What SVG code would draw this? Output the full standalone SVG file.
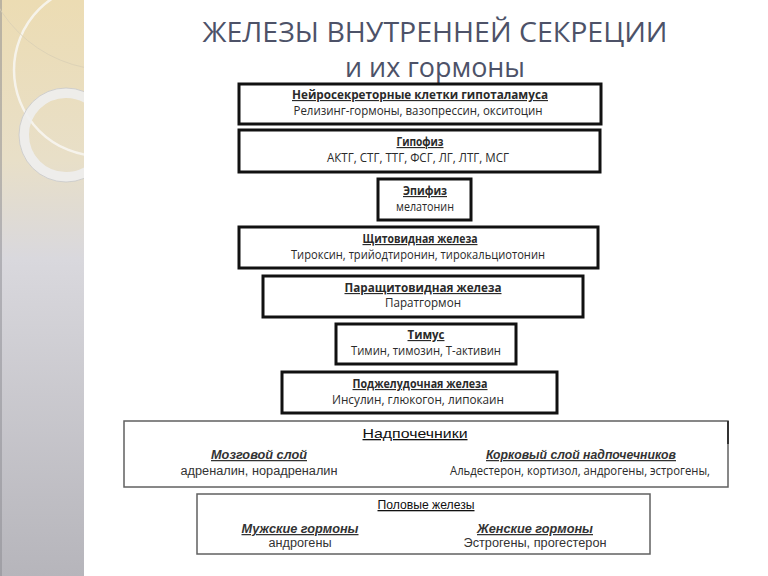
<svg xmlns="http://www.w3.org/2000/svg" width="768" height="576" viewBox="0 0 768 576">
  <defs>
    <linearGradient id="side" x1="0" y1="0" x2="0" y2="1">
      <stop offset="0" stop-color="#ecdcb3"/>
      <stop offset="0.28" stop-color="#e8dfc8"/>
      <stop offset="0.45" stop-color="#d9d8dd"/>
      <stop offset="1" stop-color="#b6b5bb"/>
    </linearGradient>
    <clipPath id="sideClip"><rect x="0" y="0" width="84" height="576"/></clipPath>
  </defs>
  <style>
    .box { fill: #ffffff; stroke: #111111; stroke-width: 3; }
    .gbox { fill: #ffffff; stroke: #606060; stroke-width: 1.5; }
    .h { font-family: "Open Sans", "Noto Sans", sans-serif; font-size: 11.5px; font-weight: 700; fill: #2a2a2a; text-anchor: middle; text-decoration: underline; }
    .t { font-family: "Open Sans", "Noto Sans", sans-serif; font-size: 12.5px; fill: #2a2a2a; text-anchor: middle; }
    .a { font-family: "Liberation Sans", Arial, sans-serif; font-size: 12.5px; fill: #333333; text-anchor: middle; }
    .ah { font-family: "Liberation Sans", Arial, sans-serif; font-size: 13px; fill: #111111; text-anchor: middle; text-decoration: underline; }
    .bi { font-family: "Liberation Sans", Arial, sans-serif; font-size: 12.5px; font-weight: 700; font-style: italic; fill: #333333; text-anchor: middle; text-decoration: underline; }
    .title { font-family: "Open Sans", "Noto Sans", sans-serif; font-size: 27px; font-weight: 400; fill: #4d5268; text-anchor: middle; }
  </style>

  <rect x="0" y="0" width="768" height="576" fill="#ffffff"/>

  <g id="sidebar">
    <rect x="0" y="0" width="84" height="576" fill="url(#side)"/>
    <rect x="0" y="0" width="2" height="576" fill="#8a8990" opacity="0.5"/>
    <g clip-path="url(#sideClip)" fill="none">
      <circle cx="100" cy="70" r="86" stroke="#f7f5f0" stroke-width="2.5" opacity="0.9"/>
      <circle cx="110" cy="-60" r="130" stroke="#d9cfb5" stroke-width="1" opacity="0.8"/>
      <circle cx="66" cy="135" r="42" stroke="#eeeeee" stroke-width="10" opacity="0.9"/>
      <circle cx="66" cy="135" r="47" stroke="#c8c8c8" stroke-width="0.8"/>
    </g>
  </g>

  <g id="title">
    <text class="title" x="435" y="42" textLength="465" lengthAdjust="spacingAndGlyphs">ЖЕЛЕЗЫ ВНУТРЕННЕЙ СЕКРЕЦИИ</text>
    <text class="title" x="435" y="77" textLength="180" lengthAdjust="spacingAndGlyphs">и их гормоны</text>
  </g>

  <g id="hypothalamus">
    <rect class="box" x="239" y="84" width="362" height="40"/>
    <text class="h" x="420" y="99" textLength="256" lengthAdjust="spacingAndGlyphs">Нейросекреторные клетки  гипоталамуса</text>
    <text class="t" x="418" y="115" textLength="249" lengthAdjust="spacingAndGlyphs">Релизинг-гормоны, вазопрессин, окситоцин</text>
  </g>

  <g id="pituitary">
    <rect class="box" x="239" y="130" width="361" height="42"/>
    <text class="h" x="420" y="146" textLength="47" lengthAdjust="spacingAndGlyphs">Гипофиз</text>
    <text class="t" x="418" y="162" font-size="14" textLength="182" lengthAdjust="spacingAndGlyphs">АКТГ, СТГ, ТТГ, ФСГ, ЛГ, ЛТГ, МСГ</text>
  </g>

  <g id="pineal">
    <rect class="box" x="378" y="179" width="93" height="41"/>
    <text class="h" x="425" y="195" textLength="44" lengthAdjust="spacingAndGlyphs">Эпифиз</text>
    <text class="t" x="425" y="211" textLength="58" lengthAdjust="spacingAndGlyphs">мелатонин</text>
  </g>

  <g id="thyroid">
    <rect class="box" x="239" y="227" width="359" height="41"/>
    <text class="h" x="420" y="243" textLength="115" lengthAdjust="spacingAndGlyphs">Щитовидная железа</text>
    <text class="t" x="418" y="259" font-size="13.5" textLength="254" lengthAdjust="spacingAndGlyphs">Тироксин, трийодтиронин, тирокальциотонин</text>
  </g>

  <g id="parathyroid">
    <rect class="box" x="263" y="276" width="320" height="41"/>
    <text class="h" x="423" y="292" textLength="157" lengthAdjust="spacingAndGlyphs">Паращитовидная железа</text>
    <text class="t" x="423" y="307" textLength="76" lengthAdjust="spacingAndGlyphs">Паратгормон</text>
  </g>

  <g id="thymus">
    <rect class="box" x="336" y="324" width="180" height="40"/>
    <text class="h" x="426" y="339" textLength="37" lengthAdjust="spacingAndGlyphs">Тимус</text>
    <text class="t" x="426" y="355" textLength="150" lengthAdjust="spacingAndGlyphs">Тимин, тимозин, Т-активин</text>
  </g>

  <g id="pancreas">
    <rect class="box" x="282" y="372" width="275" height="41"/>
    <text class="h" x="420" y="388" textLength="135" lengthAdjust="spacingAndGlyphs">Поджелудочная железа</text>
    <text class="t" x="418" y="404" textLength="172" lengthAdjust="spacingAndGlyphs">Инсулин, глюкогон, липокаин</text>
  </g>

  <g id="adrenal">
    <rect class="gbox" x="124" y="421" width="604" height="66"/>
    <line x1="728" y1="421" x2="728" y2="444" stroke="#333333" stroke-width="2"/>
    <text class="ah" x="415" y="438" textLength="105" lengthAdjust="spacingAndGlyphs">Надпочечники</text>
    <text class="bi" x="259" y="459" textLength="96" lengthAdjust="spacingAndGlyphs">Мозговой слой</text>
    <text class="a" x="259" y="475" textLength="157" lengthAdjust="spacingAndGlyphs">адреналин, норадреналин</text>
    <text class="bi" x="581" y="459" textLength="190" lengthAdjust="spacingAndGlyphs">Корковый слой надпочечников</text>
    <text class="t" x="580" y="475" textLength="260" lengthAdjust="spacingAndGlyphs">Альдестерон, кортизол, андрогены, эстрогены,</text>
  </g>

  <g id="gonads">
    <rect class="gbox" x="197" y="494" width="453" height="60"/>
    <text class="ah" x="426" y="509" font-size="12" textLength="97" lengthAdjust="spacingAndGlyphs">Половые железы</text>
    <text class="bi" x="300" y="533" textLength="117" lengthAdjust="spacingAndGlyphs">Мужские гормоны</text>
    <text class="a" x="300" y="547" textLength="63" lengthAdjust="spacingAndGlyphs">андрогены</text>
    <text class="bi" x="535" y="533" textLength="116" lengthAdjust="spacingAndGlyphs">Женские гормоны</text>
    <text class="a" x="535" y="547" textLength="143" lengthAdjust="spacingAndGlyphs">Эстрогены, прогестерон</text>
  </g>
</svg>
